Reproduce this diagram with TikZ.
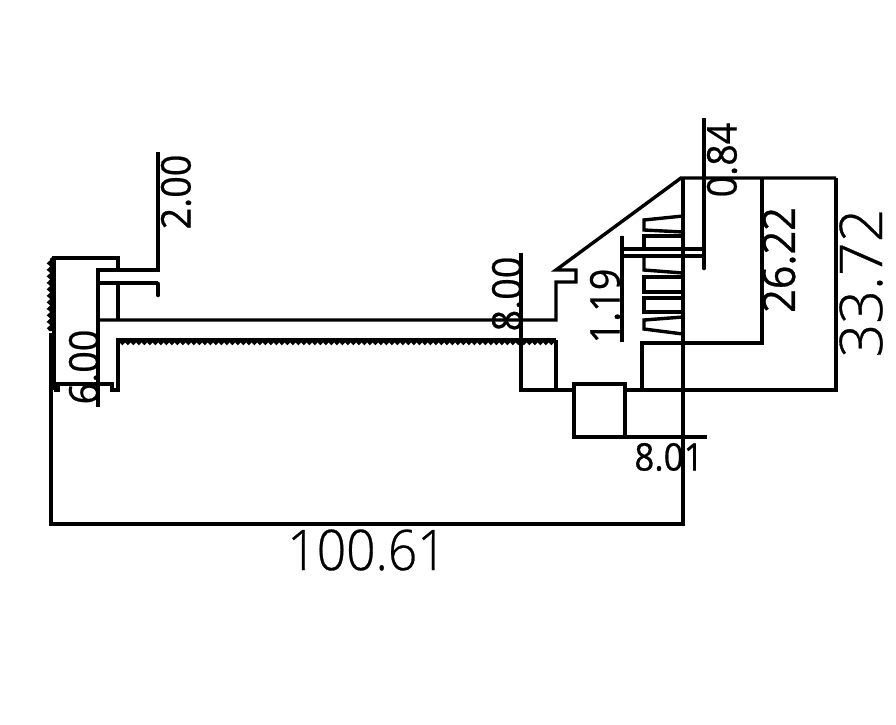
\documentclass[tikz,border=0pt]{standalone}
\usepackage{fontspec}
\usetikzlibrary{decorations.pathmorphing}
\newfontfamily\dimfont[FakeBold=0.6]{Open Sans}
\newfontfamily\bigdimfont[FakeBold=0.5]{Open Sans Light}

\begin{document}
\begin{tikzpicture}[x=1pt,y=-1pt,
                    outline/.style={line width=3.4pt,line join=miter},
                    tick/.style={line width=4.6pt,line cap=round},
                    teeth/.style={line width=2.6pt,decorate,decoration={snake,segment length=5.5pt,amplitude=1.4pt}},
                    wall teeth/.style={teeth,line width=3.4pt,decoration={snake,segment length=6.5pt,amplitude=1.8pt}},
                    dim label/.style={inner sep=0pt,rotate=90,xscale=.92,transform shape,font=\dimfont\fontsize{41}{41}\selectfont},
                    big label/.style={inner sep=0pt,xscale=.92,transform shape,font=\bigdimfont\fontsize{56}{56}\selectfont}]
  \useasboundingbox (0,0) rectangle (896,724);

  % left end
  \draw[outline] (54,390) -- (54,258) -- (118,258) -- (118,270);
  \draw[outline] (158,152) -- (158,270) -- (98,270) -- (98,407);
  \draw[outline] (158,283) -- (98,283);
  \draw[tick] (158,284) -- (158,295);
  \draw[outline] (118,283) -- (118,320);
  \draw[outline] (98,320) -- (556,320) -- (556,282) -- (576,282) -- (576,270) -- (556,270) -- (681,178) -- (836,178);
  \draw[outline] (54,390) -- (58,390) -- (58,384) -- (112,384) -- (112,390) -- (118,390) -- (118,340) -- (556,340);
  \draw[wall teeth] (51,258) -- (51,331);
  \draw[teeth] (118,342) -- (556,342);

  % middle block
  \draw[outline] (521,253) -- (521,390) -- (574,390);
  \draw[outline] (556,340) -- (556,390);
  \draw[outline] (574,384) rectangle (625,437);
  \draw[outline] (625,390) -- (836,390) -- (836,178);
  \draw[outline] (574,437) -- (707,437);

  % right end
  \draw[outline] (642,390) -- (642,343) -- (762,343) -- (762,178);
  \draw[outline] (683,178) -- (683,524) -- (51,524) -- (51,333);
  \draw[outline] (704,118) -- (704,268);
  \draw[outline] (622,236) -- (622,342);
  \draw[tick] (622,238) -- (622,248);
  \draw[tick] (622,258) -- (622,268);
  \draw[tick] (704,238) -- (704,248);
  \draw[tick] (704,258) -- (704,268);
  \draw[outline] (622,249) -- (704,249);
  \draw[outline] (622,256) -- (704,256);

  % fins
  \draw[outline] (683,216) -- (644,220) -- (644,230) -- (683,232);
  \draw[outline] (683,236) -- (644,236) -- (644,249);
  \draw[outline] (644,256) -- (644,270) -- (683,273);
  \draw[outline] (683,277) -- (644,277) -- (644,292) -- (683,292);
  \draw[outline] (683,298) -- (644,298) -- (644,312) -- (683,312);
  \draw[outline] (683,317) -- (644,320) -- (644,329) -- (683,334);

  \node[dim label] (gapdim) at (176,192) {2.00};
  \node[dim label] (stemdim) at (84,367) {6.00};
  \node[dim label] (walldim) at (507,294) {8.00};
  \node[dim label] (pitchdim) at (605,306) {1.19};
  \node[dim label] (findim) at (722,160) {0.84};
  \node[dim label,font=\dimfont\fontsize{45}{45}\selectfont] (innerdim) at (779,260) {26.22};
  \node[inner sep=0pt,rotate=90,font=\bigdimfont\fontsize{59}{59}\selectfont] (heightdim) at (861,283) {33.72};
  \node[inner sep=0pt,xscale=.92,transform shape,font=\dimfont\fontsize{38}{38}\selectfont] (basedim) at (669,457) {8.01};
  \node[big label] (lengthdim) at (367,550) {100.61};
\end{tikzpicture}
\end{document}
